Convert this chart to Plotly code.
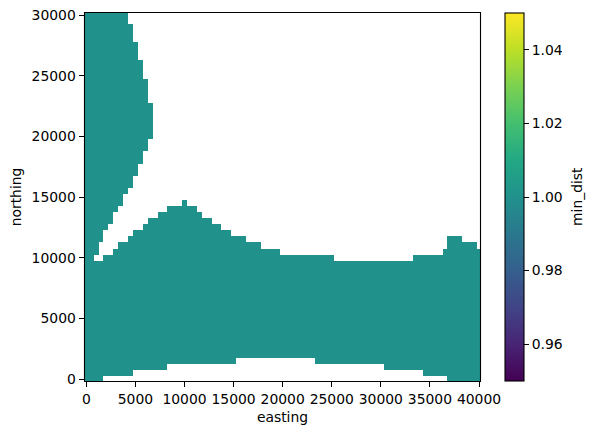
import plotly.graph_objects as go

# Easting / northing of the grid cells (m)
easting = [500 * i for i in range(81)]
northing = [500 * j for j in range(61)]

# Highest filled northing of the lower mass, one value per easting column
mass_top = [
    9500, 9500, 9500, 9500, 10000, 10000, 10500, 11000, 11000, 11500,
    12000, 12000, 12500, 13000, 13000, 13500, 13500, 14000, 14000, 14000,
    14500, 14000, 14000, 13500, 13000, 13000, 12500, 12500, 12000, 12000,
    11500, 11500, 11500, 11000, 11000, 11000, 10500, 10500, 10500, 10500,
    10000, 10000, 10000, 10000, 10000, 10000, 10000, 10000, 10000, 10000,
    10000, 9500, 9500, 9500, 9500, 9500, 9500, 9500, 9500, 9500,
    9500, 9500, 9500, 9500, 9500, 9500, 9500, 10000, 10000, 10000,
    10000, 10000, 10000, 10500, 11500, 11500, 11500, 11000, 11000, 11000,
    10500,
]

# Lowest filled northing of the lower mass, one value per easting column
mass_bottom = [
    0, 0, 0, 0, 500, 500, 500, 500, 500, 500,
    1000, 1000, 1000, 1000, 1000, 1000, 1000, 1500, 1500, 1500,
    1500, 1500, 1500, 1500, 1500, 1500, 1500, 1500, 1500, 1500,
    1500, 2000, 2000, 2000, 2000, 2000, 2000, 2000, 2000, 2000,
    2000, 2000, 2000, 2000, 2000, 2000, 2000, 1500, 1500, 1500,
    1500, 1500, 1500, 1500, 1500, 1500, 1500, 1500, 1500, 1500,
    1500, 1000, 1000, 1000, 1000, 1000, 1000, 1000, 1000, 500,
    500, 500, 500, 500, 0, 0, 0, 0, 0, 0,
    0,
]

# Easternmost filled easting of the upper-left wedge, from northing 30000 down to 10000
wedge_edge = [
    4000, 4000, 4500, 4500, 4500, 5000, 5000, 5000, 5500, 5500,
    5500, 6000, 6000, 6000, 6000, 6500, 6500, 6500, 6500, 6500,
    6500, 6000, 6000, 5500, 5500, 5000, 5000, 4500, 4500, 4000,
    3500, 3500, 3000, 2500, 2500, 2000, 1500, 1500, 1000, 1000,
    500,
]
wedge_northing = [30000 - 500 * k for k in range(41)]
edge_by_northing = dict(zip(wedge_northing, wedge_edge))

min_dist = []
for n in northing:
    row = []
    for e, top, bottom in zip(easting, mass_top, mass_bottom):
        filled = bottom <= n <= top or e <= edge_by_northing.get(n, -1)
        row.append(1.0 if filled else None)
    min_dist.append(row)

x_ticks = [0, 5000, 10000, 15000, 20000, 25000, 30000, 35000, 40000]
y_ticks = [0, 5000, 10000, 15000, 20000, 25000, 30000]
cbar_ticks = [0.96, 0.98, 1.00, 1.02, 1.04]

viridis = [
    [0.0, "#440154"], [0.1, "#482475"], [0.2, "#414487"], [0.3, "#355f8d"],
    [0.4, "#2a788e"], [0.5, "#21918c"], [0.6, "#22a884"], [0.7, "#44bf70"],
    [0.8, "#7ad151"], [0.9, "#bddf26"], [1.0, "#fde725"],
]

FONT = dict(family="DejaVu Sans", size=13.9, color="black")

PLOT_L, PLOT_R, PLOT_T, PLOT_B = 85, 480, 13, 381
W, H = PLOT_R - PLOT_L, PLOT_B - PLOT_T

fig = go.Figure(
    go.Heatmap(
        x=easting,
        y=northing,
        z=min_dist,
        zmin=0.95,
        zmax=1.05,
        colorscale=viridis,
        hoverongaps=False,
        colorbar=dict(
            x=(505.5 - PLOT_L) / W,
            xanchor="left",
            y=0,
            yanchor="bottom",
            len=1,
            lenmode="fraction",
            thickness=19,
            thicknessmode="pixels",
            outlinecolor="black",
            outlinewidth=1.1,
            xpad=0,
            ypad=0,
            tickmode="array",
            tickvals=cbar_ticks,
            ticktext=["0.96", "0.98", "1.00", "1.02", "1.04"],
            ticks="outside",
            ticklen=4.9,
            tickwidth=1.1,
            tickcolor="black",
            tickfont=FONT,
        ),
    )
)

axis_common = dict(
    showgrid=False,
    zeroline=False,
    showline=False,
    ticks="outside",
    ticklen=5.4,
    tickwidth=1.1,
    tickcolor="black",
    tickfont=FONT,
    tickmode="array",
)

fig.update_layout(
    width=594,
    height=435,
    margin=dict(l=PLOT_L, r=594 - PLOT_R, t=PLOT_T, b=435 - PLOT_B, autoexpand=False),
    paper_bgcolor="white",
    plot_bgcolor="white",
    font=FONT,
    xaxis=dict(axis_common, range=[-132, 40102], tickvals=x_ticks, ticktext=[str(v) for v in x_ticks],
               title=dict(text="easting", font=FONT, standoff=6)),
    yaxis=dict(axis_common, range=[-140, 30165], tickvals=y_ticks, ticktext=[str(v) for v in y_ticks],
               title=dict(text="northing", font=FONT, standoff=6)),
    shapes=[
        dict(type="rect", xref="paper", yref="paper", layer="above",
             x0=(84.5 - PLOT_L) / W, x1=(480.5 - PLOT_L) / W,
             y0=(PLOT_B - 381.5) / H, y1=(PLOT_B - 12.5) / H,
             line=dict(color="black", width=1.1), fillcolor="rgba(0,0,0,0)")
    ],
    annotations=[
        dict(text="min_dist", xref="paper", yref="paper", x=(577 - PLOT_L) / W, y=0.5,
             xanchor="center", yanchor="middle", textangle=-90, showarrow=False, font=FONT)
    ],
)

fig.write_html("out.html", post_script="document.body.style.margin='0';", config=dict(displayModeBar=False))
